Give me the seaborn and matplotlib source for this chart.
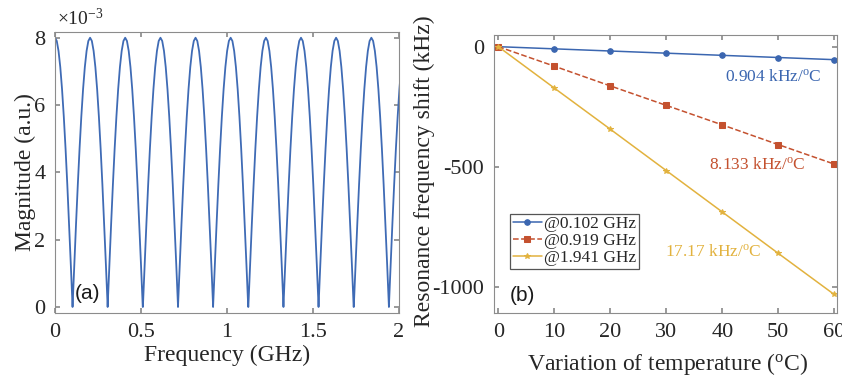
import numpy as np
import pandas as pd
import matplotlib
matplotlib.use("Agg")
import matplotlib.pyplot as plt
import seaborn as sns

# --- data ---
# (a) spectrum: null frequencies (GHz), peak magnitude (x1e-3) and one lobe profile
null_freqs = [-0.102, 0.102, 0.306, 0.511, 0.715, 0.919, 1.124, 1.328, 1.532, 1.737, 1.941]
lobe_width = 0.2043
peak_mag = 8.0
lobe_frac = [0.0, 0.05, 0.1, 0.15, 0.2, 0.25, 0.3, 0.35, 0.4, 0.45, 0.5,
             0.55, 0.6, 0.65, 0.7, 0.75, 0.8, 0.85, 0.9, 0.95, 1.0]
lobe_shape = [0.0, 0.156, 0.309, 0.454, 0.588, 0.707, 0.809, 0.891, 0.951, 0.988, 1.0,
              0.988, 0.951, 0.891, 0.809, 0.707, 0.588, 0.454, 0.309, 0.156, 0.0]

# (b) resonance shift vs temperature
temps = [0, 10, 20, 30, 40, 50, 60]
shift_0102 = [0, -9, -18, -27, -36, -45, -54]
shift_0919 = [0, -81, -163, -244, -325, -407, -488]
shift_1941 = [0, -172, -343, -515, -687, -859, -1030]
series_labels = ["@0.102 GHz", "@0.919 GHz", "@1.941 GHz"]
slope_texts = [r"0.904 kHz/$^{\mathrm{o}}$C", r"8.133 kHz/$^{\mathrm{o}}$C",
               r"17.17 kHz/$^{\mathrm{o}}$C"]

colors = ["#3B66B0", "#C4512F", "#E2B23E"]

sns.set_theme(style="ticks")
plt.rcParams["font.family"] = ["Liberation Serif", "DejaVu Serif"]
plt.rcParams["mathtext.fontset"] = "custom"
plt.rcParams["mathtext.rm"] = "Liberation Serif"
plt.rcParams["mathtext.it"] = "Liberation Serif:italic"
plt.rcParams["axes.edgecolor"] = "#8c8c8c"
plt.rcParams["xtick.color"] = "#8c8c8c"
plt.rcParams["ytick.color"] = "#8c8c8c"
plt.rcParams["xtick.labelcolor"] = "#262626"
plt.rcParams["ytick.labelcolor"] = "#262626"

fig = plt.figure(figsize=(8.42, 3.79), dpi=100)
ax1 = fig.add_axes([0.0653, 0.1741, 0.4086, 0.7423])
ax2 = fig.add_axes([0.5867, 0.1741, 0.4074, 0.7336])

# build the spectrum from repeated lobes between nulls (axis limits clip the ends)
fx, fy = [], []
for n0 in null_freqs:
    fx.extend([n0 + u * lobe_width for u in lobe_frac])
    fy.extend([peak_mag * s for s in lobe_shape])
spec = pd.DataFrame({"f": fx, "m": fy})
sns.lineplot(data=spec, x="f", y="m", ax=ax1, color="#3F6BB5", linewidth=1.3,
             estimator=None, sort=False)

ax1.set_xlim(0, 2)
ax1.set_ylim(-0.18, 8.18)
ax1.set_xticks([0, 0.5, 1, 1.5, 2])
ax1.set_xticklabels(["0", "0.5", "1", "1.5", "2"])
ax1.set_yticks([0, 2, 4, 6, 8])
ax1.set_xlabel("Frequency (GHz)", fontsize=17)
ax1.set_ylabel("Magnitude (a.u.)", fontsize=17)
ax1.xaxis.set_label_coords(0.5, -0.112)
ax1.yaxis.set_label_coords(-0.056, 0.5)
ax1.text(0.005, 1.01, r"×10$^{-3}$", transform=ax1.transAxes, fontsize=14,
         ha="left", va="bottom", color="#262626")
ax1.text(0.116, 0.40, "(a)", fontsize=15, family=["Liberation Sans"], ha="left",
         va="center", color="#1a1a1a")

# (b)
markers = ["o", "s", "*"]
styles = ["-", "--", "-"]
for ys, lab, c, mk, ls in zip([shift_0102, shift_0919, shift_1941], series_labels,
                              colors, markers, styles):
    sns.lineplot(x=temps, y=ys, ax=ax2, color=c, linestyle=ls, marker=mk,
                 markersize=4, markeredgecolor=c, linewidth=1.1, label=lab)

txt_pos = [(49.1, -125), (46.3, -492), (38.4, -852)]
for (tx, ty), t, c in zip(txt_pos, slope_texts, colors):
    ax2.text(tx, ty, t, color=c, fontsize=12.5, ha="center", va="center")

ax2.set_xlim(-0.77, 60.5)
ax2.set_ylim(-1107, 48.6)
ax2.set_xticks(temps)
ax2.set_yticks([0, -500, -1000])
ax2.set_yticklabels(["0", "-500", "-1000"])
ax2.set_xlabel(r"Variation of temperature ($^{\mathrm{o}}$C)", fontsize=17)
ax2.set_ylabel("Resonance frequency shift (kHz)", fontsize=17)
ax2.xaxis.set_label_coords(0.507, -0.135)
ax2.yaxis.set_label_coords(-0.172, 0.51)
ax2.text(2.1, -1034, "(b)", fontsize=15, family=["Liberation Sans"], ha="left",
         va="center", color="#1a1a1a")

leg = ax2.legend(loc="lower left", bbox_to_anchor=(0.047, 0.158), borderaxespad=0,
                 fontsize=12.5, handlelength=1.7, handletextpad=0.1, borderpad=0.15,
                 labelspacing=0.05, fancybox=False, framealpha=1)
leg.get_frame().set_edgecolor("#555555")
leg.get_frame().set_linewidth(0.9)

for ax in (ax1, ax2):
    ax.tick_params(direction="in", top=True, right=True, labelsize=16, length=3.5, pad=7)
    for sp in ax.spines.values():
        sp.set_visible(True)
        sp.set_linewidth(0.8)
    ax.grid(False)

fig.savefig("out.png", dpi=100)
